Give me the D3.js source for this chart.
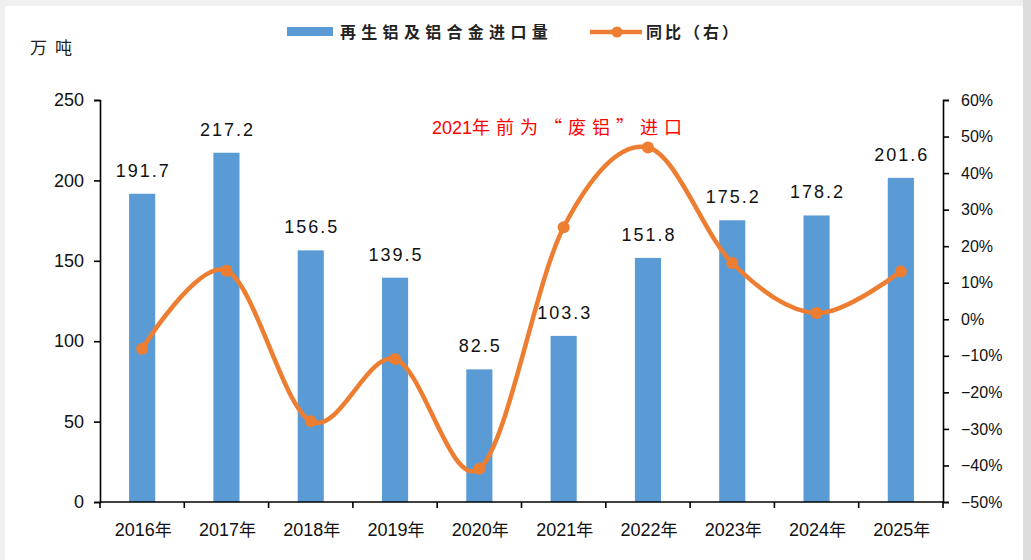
<!DOCTYPE html>
<html>
<head>
<meta charset="utf-8">
<script src="https://cdn.jsdelivr.net/npm/d3@7"></script>
<style>
  html, body { margin: 0; padding: 0; background: #f0f0f0; }
  svg { display: block; }
</style>
</head>
<body>
<svg id="chart" width="1031" height="560"></svg>
<script>
// === DATA ===
const years = ["2016年","2017年","2018年","2019年","2020年","2021年","2022年","2023年","2024年","2025年"];
const imports = [191.7, 217.2, 156.5, 139.5, 82.5, 103.3, 151.8, 175.2, 178.2, 201.6];
const yoy = [-8.1, 13.3, -27.9, -10.9, -40.9, 25.2, 47.0, 15.4, 1.7, 13.1];
const leftTicks = [0, 50, 100, 150, 200, 250];
const rightTicks = [-50, -40, -30, -20, -10, 0, 10, 20, 30, 40, 50, 60];
const barName = "再生铝及铝合金进口量";
const lineName = "同比（右）";
const unitLabel = "万吨";
const noteYear = "2021";
const noteText = "年前为“废铝”进口";

// === LAYOUT ===
const L = 100, R = 943, T = 100, B = 502;
const BLUE = "#5b9bd5", ORANGE = "#ed7d31";
const numFont = "'Liberation Sans', Arial, sans-serif";
const cjkFont = "'Noto Sans CJK SC', sans-serif";

const svg = d3.select("#chart");

// frame: gray page edges, white chart area
svg.append("rect").attr("x", 0).attr("y", 0).attr("width", 1031).attr("height", 560).attr("fill", "#f0f0f0");
svg.append("rect").attr("x", 1023).attr("y", 0).attr("width", 8).attr("height", 560).attr("fill", "#dcdcdc");
svg.append("rect").attr("x", 5).attr("y", 6).attr("width", 1018).attr("height", 554).attr("fill", "#fff");

// === SCALES ===
const x = d3.scaleBand().domain(years).range([L, R]);
const xBar = d3.scaleBand().domain(years).range([L, R]).paddingInner(0.69).paddingOuter(0.345);
const yL = d3.scaleLinear().domain([0, 250]).range([B, T]);
const yR = d3.scaleLinear().domain([-50, 60]).range([B, T]);

// === BARS ===
const rows = years.map((y, i) => ({ year: y, v: imports[i], p: yoy[i] }));

svg.append("g").selectAll("rect")
  .data(rows)
  .join("rect")
  .attr("x", d => xBar(d.year))
  .attr("y", d => yL(d.v))
  .attr("width", xBar.bandwidth())
  .attr("height", d => B - yL(d.v))
  .attr("fill", BLUE);

svg.append("g").selectAll("text")
  .data(rows)
  .join("text")
  .attr("x", d => x(d.year) + x.bandwidth() / 2 + 1)
  .attr("y", d => yL(d.v) - 17)
  .attr("text-anchor", "middle")
  .attr("font-family", numFont)
  .attr("font-size", 18)
  .attr("letter-spacing", 2)
  .attr("fill", "#111")
  .text(d => d.v.toFixed(1));

// === AXES ===
const axisStyle = g => {
  g.selectAll("path, line").attr("stroke", "#000").attr("stroke-width", 1.6);
  g.selectAll("text").attr("fill", "#111").attr("font-family", numFont);
};

svg.append("g")
  .attr("transform", `translate(${L},0)`)
  .call(d3.axisLeft(yL).tickValues(leftTicks).tickSize(6).tickSizeOuter(6).tickPadding(10))
  .call(axisStyle)
  .call(g => g.selectAll("text").attr("font-size", 18));

svg.append("g")
  .attr("transform", `translate(${R},0)`)
  .call(d3.axisRight(yR).tickValues(rightTicks).tickSize(6).tickSizeOuter(6).tickPadding(12).tickFormat(d => d + "%"))
  .call(axisStyle)
  .call(g => g.selectAll("text").attr("font-size", 16).text(d => (d < 0 ? "\u2212" + (-d) : d) + "%"));

// x axis: ticks at category boundaries
const xAxis = svg.append("g").attr("transform", `translate(0,${B})`);
xAxis.append("line").attr("x1", L).attr("x2", R).attr("y1", 0).attr("y2", 0)
  .attr("stroke", "#000").attr("stroke-width", 1.6);
xAxis.selectAll("line.tick")
  .data(years.concat(["end"]))
  .join("line")
  .attr("class", "tick")
  .attr("x1", (d, i) => i < years.length ? x(d) : R)
  .attr("x2", (d, i) => i < years.length ? x(d) : R)
  .attr("y1", 0).attr("y2", 6)
  .attr("stroke", "#000").attr("stroke-width", 1.6);
xAxis.selectAll("text")
  .data(years)
  .join("text")
  .attr("x", d => x(d) + x.bandwidth() / 2 + 1)
  .attr("y", 34)
  .attr("text-anchor", "middle")
  .attr("font-size", 18)
  .attr("fill", "#111")
  .call(t => {
    t.append("tspan").attr("font-family", numFont).text(d => d.replace("年", ""));
    t.append("tspan").attr("font-family", cjkFont).attr("font-size", 17).text("年");
  });

// === LINE ===
const line = d3.line()
  .x(d => x(d.year) + x.bandwidth() / 2)
  .y(d => yR(d.p))
  .curve(d3.curveCatmullRom.alpha(0));

svg.append("path")
  .datum(rows)
  .attr("d", line)
  .attr("fill", "none")
  .attr("stroke", ORANGE)
  .attr("stroke-width", 4.5);

svg.append("g").selectAll("circle")
  .data(rows)
  .join("circle")
  .attr("cx", d => x(d.year) + x.bandwidth() / 2)
  .attr("cy", d => yR(d.p))
  .attr("r", 6)
  .attr("fill", ORANGE);

// === TEXTS ===
svg.append("text")
  .attr("x", 30).attr("y", 54)
  .attr("font-family", cjkFont).attr("font-size", 17).attr("letter-spacing", 8)
  .attr("fill", "#222")
  .text(unitLabel);

const note = svg.append("text")
  .attr("x", 432).attr("y", 134)
  .attr("font-size", 18).attr("fill", "#ff0000");
note.append("tspan").attr("font-family", numFont).text(noteYear);
note.append("tspan").attr("font-family", cjkFont).attr("letter-spacing", 6).text(noteText);

// === LEGEND ===
const lg = svg.append("g");
lg.append("rect").attr("x", 287).attr("y", 27).attr("width", 46).attr("height", 9).attr("fill", BLUE);
lg.append("text").attr("x", 340).attr("y", 38)
  .attr("font-family", cjkFont).attr("font-size", 16).attr("font-weight", "bold").attr("letter-spacing", 5.3)
  .attr("fill", "#222").text(barName);
lg.append("line").attr("x1", 590).attr("x2", 642).attr("y1", 32).attr("y2", 32)
  .attr("stroke", ORANGE).attr("stroke-width", 4.5);
lg.append("circle").attr("cx", 617).attr("cy", 32).attr("r", 5.5).attr("fill", ORANGE);
lg.append("text").attr("x", 646).attr("y", 38)
  .attr("font-family", cjkFont).attr("font-size", 16).attr("font-weight", "bold").attr("letter-spacing", 3)
  .attr("fill", "#222").text(lineName);
</script>
</body>
</html>
